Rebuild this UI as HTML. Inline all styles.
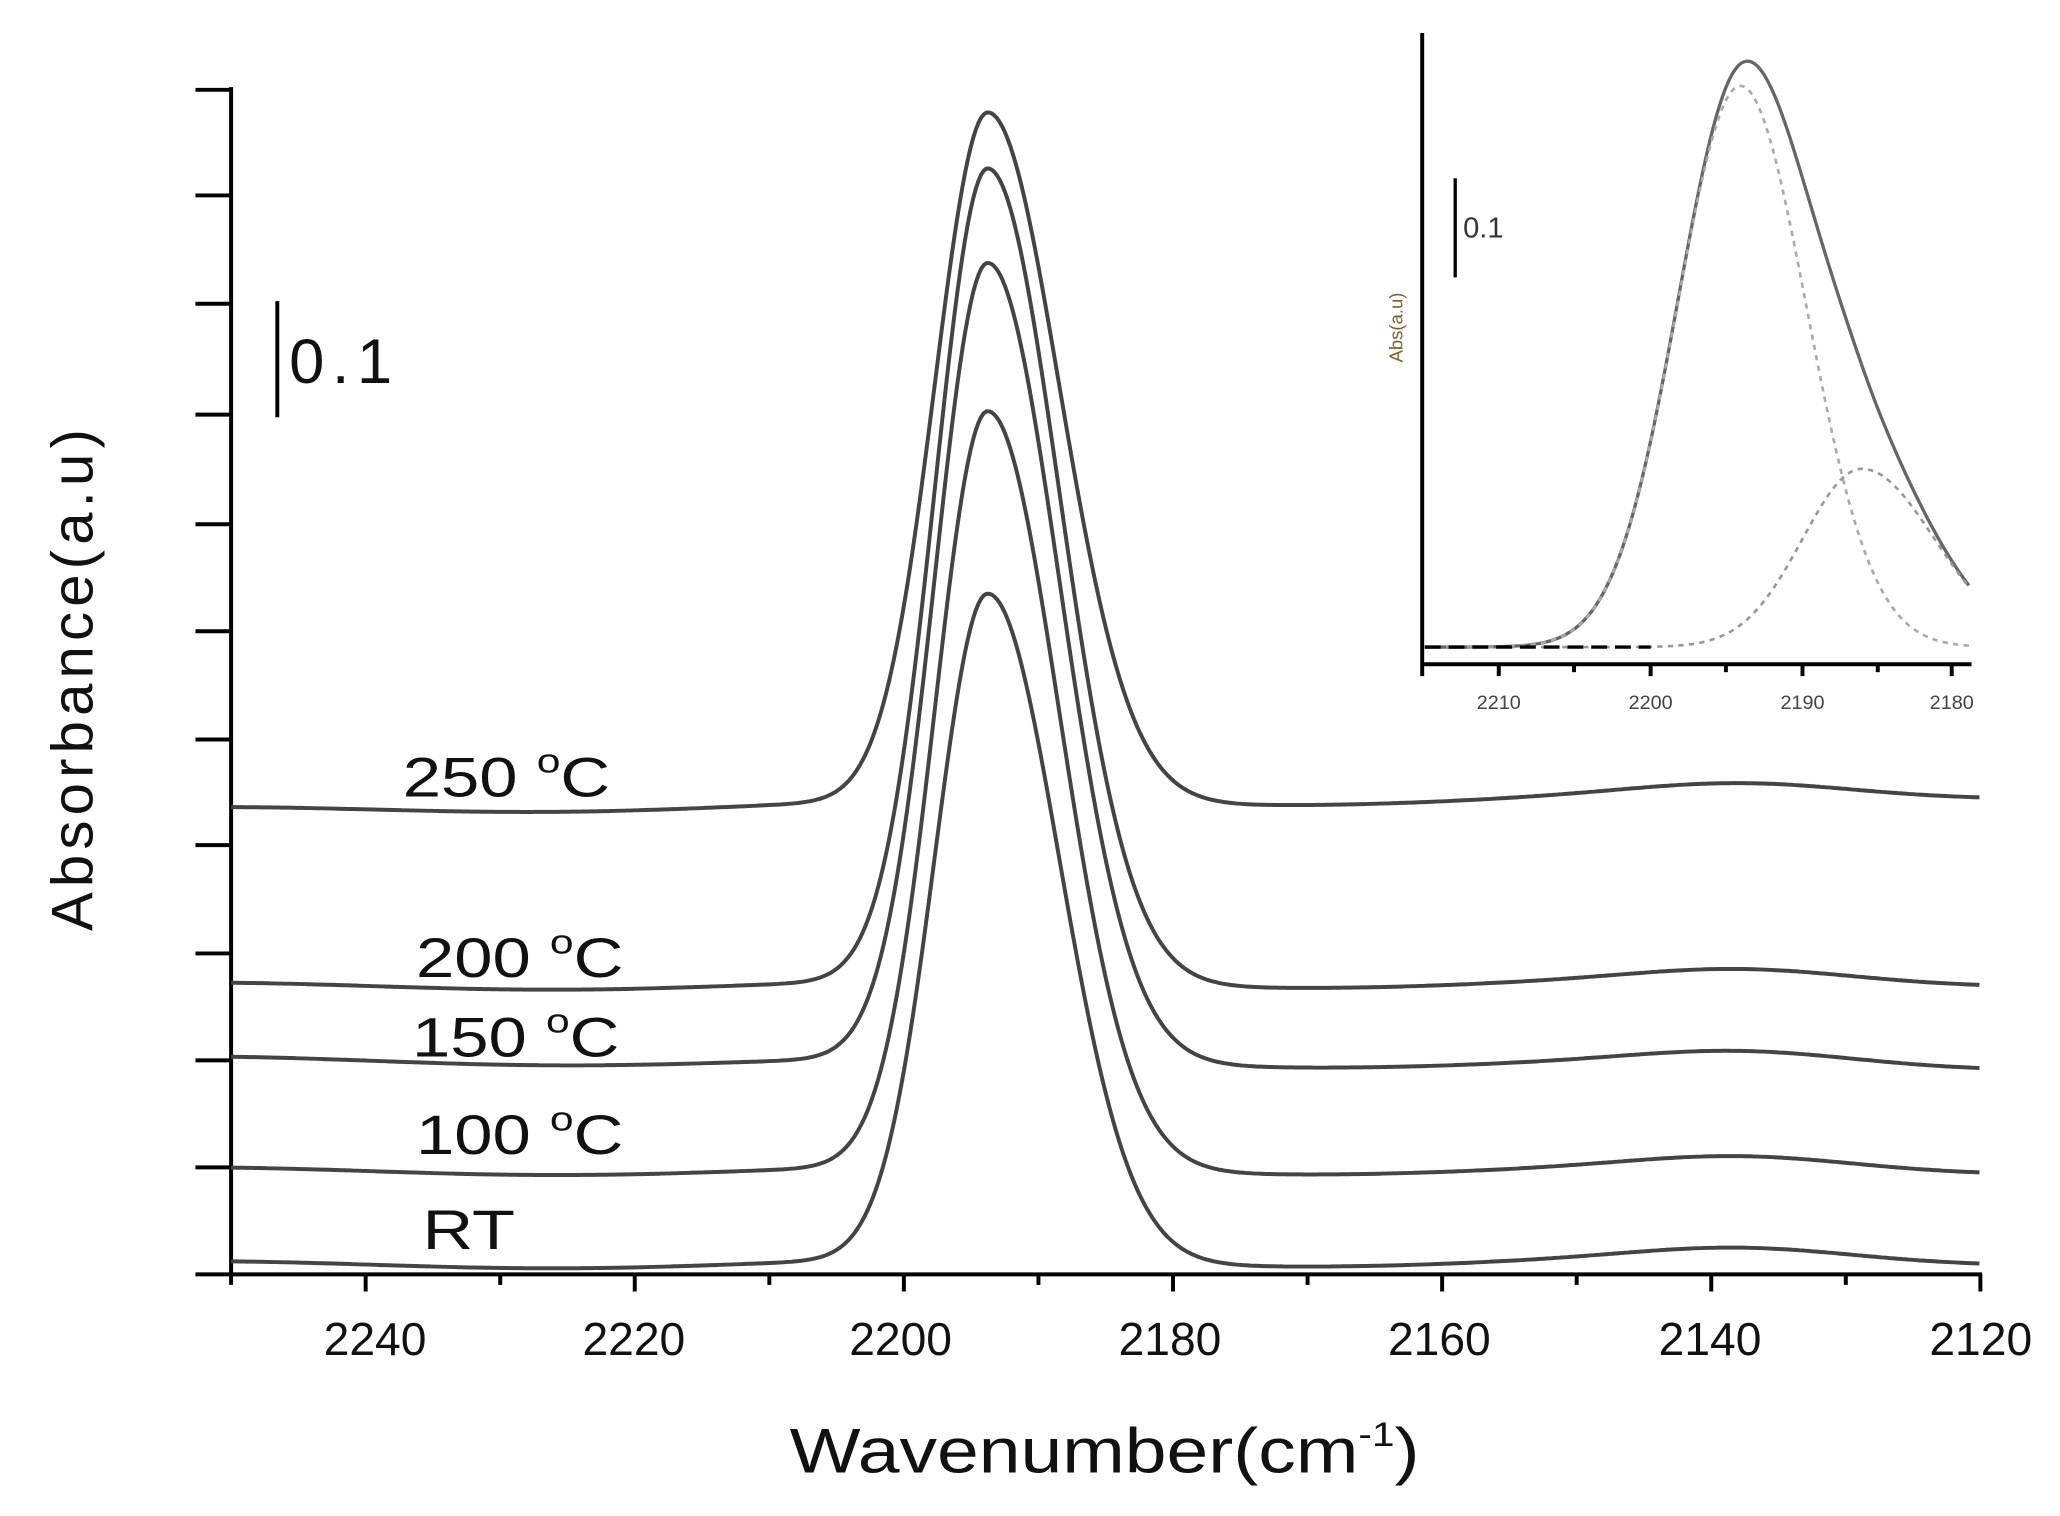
<!DOCTYPE html>
<html><head><meta charset="utf-8"><style>
html,body{margin:0;padding:0;background:#fff;}
svg{display:block;}
text{font-family:"Liberation Sans",sans-serif;}
</style></head><body>
<svg id="s" width="2060" height="1516" viewBox="0 0 1560 1148" preserveAspectRatio="none" xmlns="http://www.w3.org/2000/svg">
<g stroke="#000" stroke-width="3" fill="none">
<line x1="175" y1="66" x2="175" y2="966"/>
<line x1="174" y1="965" x2="1501" y2="965"/>
<line x1="1077" y1="25" x2="1077" y2="512"/>
<line x1="1076" y1="503" x2="1493" y2="503"/>
<line x1="210" y1="228" x2="210" y2="316"/>
<line x1="1102" y1="135" x2="1102" y2="210" stroke-width="2.5"/>
</g>
<g id="ticks" stroke="#000" stroke-width="3"></g>
<g id="curves" fill="none"></g>
<g font-size="35" fill="#111" text-anchor="middle">
<text x="284" y="1026">2240</text><text x="480" y="1026">2220</text><text x="682" y="1026">2200</text>
<text x="886" y="1026">2180</text><text x="1090" y="1026">2160</text><text x="1295" y="1026">2140</text><text x="1500" y="1026">2120</text>
</g>
<g font-size="15" fill="#444" text-anchor="middle">
<text x="1135" y="537">2210</text><text x="1250" y="537">2200</text><text x="1365" y="537">2190</text><text x="1478" y="537">2180</text>
</g>
<text x="219" y="290" font-size="48" fill="#111" textLength="78">0.1</text>
<text x="1108" y="180" font-size="22" fill="#333">0.1</text>
<text transform="translate(70,515) rotate(-90)" font-size="44" text-anchor="middle" fill="#111" textLength="380">Absorbance(a.u)</text>
<text transform="translate(1062,248) rotate(-90)" font-size="14" text-anchor="middle" fill="#8a5a2a">Abs(a.u)</text>
<text x="598" y="1115" font-size="48" fill="#111">Wavenumber(cm<tspan font-size="26" dy="-20">-1</tspan><tspan dy="20">)</tspan></text>
<g font-size="42" fill="#111">
<text x="305" y="603">250 <tspan font-size="26" dy="-18">o</tspan><tspan dy="18">C</tspan></text>
<text x="315" y="740">200 <tspan font-size="26" dy="-18">o</tspan><tspan dy="18">C</tspan></text>
<text x="312" y="800">150 <tspan font-size="26" dy="-18">o</tspan><tspan dy="18">C</tspan></text>
<text x="315" y="874">100 <tspan font-size="26" dy="-18">o</tspan><tspan dy="18">C</tspan></text>
<text x="320" y="946">RT</text>
</g>
</svg>
<script>
var NS="http://www.w3.org/2000/svg";
function el(p,t,a){var e=document.createElementNS(NS,t);for(var k in a)e.setAttribute(k,a[k]);p.appendChild(e);return e;}
(function(){var ts=document.querySelectorAll('g[font-size="42"] text');ts.forEach(function(t){var bb=t.getBBox();var target=t.textContent.indexOf('C')>=0?157:70;var sx=target/bb.width;t.setAttribute('transform','translate('+bb.x+',0) scale('+sx+',1) translate('+(-bb.x)+',0)');});
var wl=document.querySelector('text[font-size="48"][x="598"]');var bb=wl.getBBox();var sx=477/bb.width;wl.setAttribute('transform','translate(598,0) scale('+sx+',1) translate(-598,0)');})();
var tk=document.getElementById('ticks');
[68,148,230,314,397,478,560,640,722,803,884,965].forEach(function(y){el(tk,'line',{x1:148,y1:y,x2:175,y2:y});});
for(var w=2250;w>=2120;w-=10){var x=175+(2250-w)*10.19;el(tk,'line',{x1:x,y1:965,x2:x,y2:(w%20==0?978:973)});}
[1135,1250,1365,1478].forEach(function(x){el(tk,'line',{x1:x,y1:503,x2:x,y2:512});});
[1192,1307,1422].forEach(function(x){el(tk,'line',{x1:x,y1:503,x2:x,y2:509});});
var cv=document.getElementById('curves');
function peak(x,c,sl,sr){var s=x<c?sl:sr;var d=(x-c)/s;return Math.exp(-0.5*d*d);}
var sets=[[958,955,452],[887,886,314],[803,807,202],[747,744,130],[614,602,87]];
sets.forEach(function(s){
 var d="";for(var x=175;x<=1500;x+=2){
  var t=(x-175)/1325;var base=s[0]+(s[1]-s[0])*t;
  var h=(s[0]+s[1])/2-s[2];
  var y=base-h*peak(x,748,40,54)-8*peak(x,1320,80,80)-3*Math.sin(x/90);
  d+=(d?"L":"M")+x+" "+y.toFixed(1);}
 el(cv,'path',{d:d,stroke:'#444','stroke-width':3});
});
var d1="",d2="",d3="";
for(var x=1079;x<=1492;x+=2){
 var a=425*peak(x,1318,48,50), b=135*peak(x,1410,45,55);
 var y=490-a-b; d1+=(d1?"L":"M")+x+" "+y.toFixed(1);
 d2+=(d2?"L":"M")+x+" "+(490-a).toFixed(1);
 d3+=(d3?"L":"M")+x+" "+(490-b).toFixed(1);
}
el(cv,'path',{d:d1,stroke:'#666','stroke-width':2.5});
el(cv,'path',{d:d2,stroke:'#aaa','stroke-width':2,'stroke-dasharray':'4 4'});
el(cv,'path',{d:d3,stroke:'#999','stroke-width':2,'stroke-dasharray':'4 4'});
el(cv,'path',{d:"M1079 490L1250 490",stroke:'#000','stroke-width':2.5,'stroke-dasharray':'12 6'});
</script>
</body></html>
